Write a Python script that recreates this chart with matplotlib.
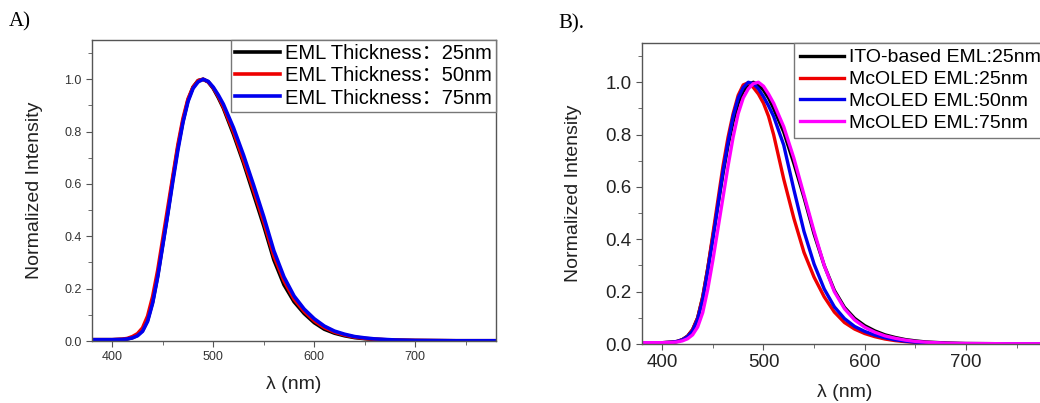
import numpy as np
import matplotlib.pyplot as plt
from matplotlib.ticker import MultipleLocator

# wavelength grid (nm) shared by all spectra
wl = [380, 400, 410, 415, 420, 425, 430, 435, 440, 445, 450, 455, 460, 465,
      470, 475, 480, 485, 490, 495, 500, 505, 510, 520, 530, 540, 550, 560,
      570, 580, 590, 600, 610, 620, 630, 640, 650, 660, 680, 700, 740, 780]

# panel A: EML thickness
a_25 = [0.005, 0.005, 0.006, 0.008, 0.013, 0.022, 0.04, 0.08, 0.15, 0.25, 0.37, 0.49, 0.62, 0.74,
        0.84, 0.92, 0.97, 0.995, 1.0, 0.99, 0.965, 0.93, 0.89, 0.79, 0.68, 0.56, 0.44, 0.31,
        0.215, 0.15, 0.105, 0.07, 0.045, 0.03, 0.02, 0.013, 0.009, 0.006, 0.003, 0.002, 0.001, 0.001]
a_50 = [0.005, 0.005, 0.007, 0.01, 0.017, 0.028, 0.05, 0.095, 0.17, 0.27, 0.39, 0.51, 0.63, 0.75,
        0.85, 0.925, 0.97, 0.995, 1.0, 0.99, 0.967, 0.935, 0.895, 0.80, 0.69, 0.575, 0.455, 0.325,
        0.23, 0.16, 0.113, 0.077, 0.051, 0.034, 0.023, 0.015, 0.01, 0.007, 0.003, 0.002, 0.001, 0.001]
a_75 = [0.005, 0.005, 0.006, 0.008, 0.012, 0.02, 0.037, 0.075, 0.145, 0.245, 0.365, 0.485, 0.61, 0.73,
        0.835, 0.915, 0.965, 0.99, 1.0, 0.992, 0.97, 0.94, 0.905, 0.815, 0.71, 0.595, 0.475, 0.345,
        0.245, 0.172, 0.122, 0.085, 0.057, 0.038, 0.026, 0.017, 0.012, 0.008, 0.004, 0.002, 0.001, 0.001]

# panel B: ITO-based vs McOLED
b_ito = [0.005, 0.005, 0.007, 0.01, 0.017, 0.03, 0.055, 0.10, 0.18, 0.29, 0.41, 0.53, 0.65, 0.76,
         0.85, 0.92, 0.965, 0.99, 1.0, 0.99, 0.97, 0.94, 0.90, 0.81, 0.69, 0.56, 0.42, 0.30,
         0.205, 0.14, 0.098, 0.07, 0.05, 0.035, 0.025, 0.017, 0.012, 0.008, 0.004, 0.002, 0.001, 0.001]
b_25 = [0.005, 0.005, 0.007, 0.01, 0.017, 0.03, 0.055, 0.10, 0.18, 0.29, 0.42, 0.55, 0.68, 0.79,
        0.88, 0.95, 0.99, 0.998, 0.98, 0.955, 0.92, 0.87, 0.80, 0.63, 0.48, 0.35, 0.255, 0.18,
        0.122, 0.082, 0.057, 0.04, 0.028, 0.019, 0.013, 0.009, 0.006, 0.004, 0.002, 0.001, 0.001, 0.001]
b_50 = [0.005, 0.005, 0.007, 0.01, 0.016, 0.028, 0.05, 0.095, 0.17, 0.28, 0.40, 0.53, 0.66, 0.77,
        0.87, 0.94, 0.98, 1.0, 0.995, 0.975, 0.945, 0.91, 0.87, 0.76, 0.59, 0.43, 0.305, 0.21,
        0.142, 0.097, 0.067, 0.048, 0.034, 0.024, 0.016, 0.011, 0.007, 0.005, 0.002, 0.001, 0.001, 0.001]
b_75 = [0.005, 0.005, 0.006, 0.008, 0.012, 0.02, 0.035, 0.065, 0.12, 0.21, 0.32, 0.44, 0.56, 0.68,
        0.79, 0.88, 0.94, 0.975, 0.995, 1.0, 0.985, 0.955, 0.92, 0.83, 0.71, 0.57, 0.43, 0.30,
        0.20, 0.135, 0.092, 0.064, 0.045, 0.031, 0.022, 0.015, 0.01, 0.007, 0.003, 0.002, 0.001, 0.001]

labels_a = ['EML Thickness：25nm', 'EML Thickness：50nm', 'EML Thickness：75nm']
labels_b = ['ITO-based EML:25nm', 'McOLED EML:25nm', 'McOLED EML:50nm', 'McOLED EML:75nm']

plt.rcParams['font.family'] = ['Liberation Sans', 'Noto Sans CJK SC', 'DejaVu Sans']

fig = plt.figure(figsize=(10.4, 4.03), dpi=100)
axA = fig.add_axes([0.0885, 0.1538, 0.3885, 0.7469])
axB = fig.add_axes([0.6173, 0.1464, 0.3894, 0.7469])


def style(ax, tsize, tcol, ypad, xpad):
    ax.set_xlim(380, 780)
    ax.set_ylim(0, 1.15)
    ax.xaxis.set_major_locator(MultipleLocator(100))
    ax.xaxis.set_minor_locator(MultipleLocator(50))
    ax.yaxis.set_major_locator(MultipleLocator(0.2))
    ax.yaxis.set_minor_locator(MultipleLocator(0.1))
    for s in ax.spines.values():
        s.set_color('#555555')
        s.set_linewidth(1.0)
    ax.tick_params(which='both', direction='out', top=False, right=False,
                   color='#555555', labelsize=tsize, labelcolor=tcol)
    ax.tick_params(which='major', length=4)
    ax.tick_params(which='minor', length=3)
    ax.set_xlabel('λ (nm)', fontsize=14, color='#222222', labelpad=xpad)
    ax.set_ylabel('Normalized Intensity', fontsize=14, color='#222222', labelpad=ypad)


axA.plot(wl, a_25, color='black', lw=2.6, label=labels_a[0])
axA.plot(wl, a_50, color='#ee0000', lw=2.6, label=labels_a[1])
axA.plot(wl, a_75, color='#0000ee', lw=2.6, label=labels_a[2])
style(axA, 9, '#333333', 15, 9)
axA.legend(loc='upper right', fontsize=14.5, frameon=True, fancybox=False,
           edgecolor='#777777', borderaxespad=0, borderpad=0.22, labelspacing=0.15,
           handlelength=2.2, handletextpad=0.25, framealpha=1)

axB.plot(wl, b_ito, color='black', lw=2.4, label=labels_b[0])
axB.plot(wl, b_25, color='#ee0000', lw=2.4, label=labels_b[1])
axB.plot(wl, b_50, color='#0000ee', lw=2.4, label=labels_b[2])
axB.plot(wl, b_75, color='#ff00ff', lw=2.4, label=labels_b[3])
style(axB, 13.5, '#222222', 17, 9)
axB.legend(loc='upper right', fontsize=14, frameon=True, fancybox=False,
           edgecolor='#777777', borderaxespad=0, borderpad=0.3, labelspacing=0.22,
           handlelength=2.3, handletextpad=0.25, framealpha=1)

fig.text(0.008, 0.945, 'A)', fontsize=15, family='Liberation Serif', va='center')
fig.text(0.537, 0.94, 'B).', fontsize=15, family='Liberation Serif', va='center')

fig.savefig('out.png', dpi=100)
